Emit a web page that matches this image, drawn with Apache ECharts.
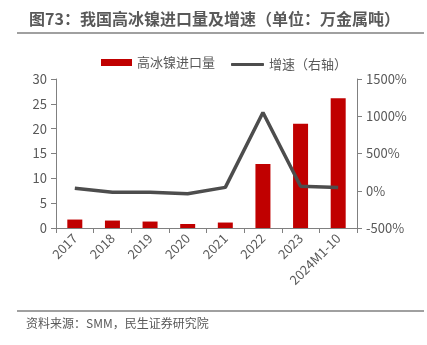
<!DOCTYPE html>
<html><head><meta charset="utf-8">
<script src="https://cdn.jsdelivr.net/npm/echarts@6/dist/echarts.min.js"></script>
<style>html,body{margin:0;padding:0;background:#fff}#c{width:427px;height:345px}</style>
</head><body><div id="c"></div>
<script>
const categories = ['2017','2018','2019','2020','2021','2022','2023','2024M1-10'];
const importVolume = [1.7, 1.5, 1.3, 0.8, 1.1, 12.9, 21.0, 26.1];
const growthRate = [35, -20, -20, -40, 45, 1050, 60, 45];
const leftTicks = [0, 30, 5];
const rightTicks = [-500, 1500, 500];

const font = '"Microsoft YaHei","Noto Sans CJK SC",sans-serif';
const txt = '#595959';
const chart = echarts.init(document.getElementById('c'));
chart.setOption({
  animation: false,
  textStyle: {fontFamily: font},
  title: {
    text: '图73：我国高冰镍进口量及增速（单位：万金属吨）',
    left: 24, top: 6,
    textStyle: {fontSize: 16, fontWeight: 'bold', color: '#595959', fontFamily: font}
  },
  graphic: [
    {type: 'line', shape: {x1: 17, y1: 33, x2: 424, y2: 33}, style: {stroke: '#808080', lineWidth: 1.5}},
    {type: 'line', shape: {x1: 17, y1: 311, x2: 424, y2: 311}, style: {stroke: '#808080', lineWidth: 1.5}},
    {type: 'text', left: 26, top: 317, style: {text: '资料来源：SMM，民生证券研究院', fontSize: 12, fill: txt, fontFamily: font}}
  ],
  legend: [
    {top: 51, left: 96, itemWidth: 31, itemHeight: 7, itemGap: 4,
     textStyle: {fontSize: 13, color: txt, fontFamily: font},
     data: [{name: '高冰镍进口量', icon: 'rect'}]},
    {top: 53, left: 226, itemWidth: 33, itemHeight: 3, itemGap: 4,
     textStyle: {fontSize: 13, color: txt, fontFamily: font},
     data: [{name: '增速（右轴）', icon: 'roundRect'}]}
  ],
  grid: {left: 56, right: 70, top: 79, bottom: 117},
  xAxis: {
    type: 'category', data: categories,
    axisLine: {lineStyle: {color: '#808080', width: 1}},
    axisTick: {show: true, length: 5, lineStyle: {color: '#808080'}},
    axisLabel: {rotate: 45, fontSize: 13, color: txt, margin: 8, interval: 0}
  },
  yAxis: [
    {type: 'value', min: leftTicks[0], max: leftTicks[1], interval: leftTicks[2],
     splitLine: {show: false},
     axisLine: {show: true, lineStyle: {color: '#808080'}},
     axisTick: {show: true, length: 5, lineStyle: {color: '#808080'}},
     axisLabel: {fontSize: 13, color: txt, margin: 9}},
    {type: 'value', min: rightTicks[0], max: rightTicks[1], interval: rightTicks[2],
     splitLine: {show: false},
     axisLine: {show: true, lineStyle: {color: '#808080'}},
     axisTick: {show: true, length: 5, lineStyle: {color: '#808080'}},
     axisLabel: {fontSize: 13, color: txt, margin: 9, formatter: function (v) { return String(v) + '%'; }}}
  ],
  series: [
    {name: '高冰镍进口量', type: 'bar', data: importVolume, barWidth: 15,
     itemStyle: {color: '#c00000'}},
    {name: '增速（右轴）', type: 'line', yAxisIndex: 1, data: growthRate,
     symbol: 'none', lineStyle: {color: '#4d4d4d', width: 3.5}, itemStyle: {color: '#4d4d4d'}}
  ]
});
</script></body></html>
